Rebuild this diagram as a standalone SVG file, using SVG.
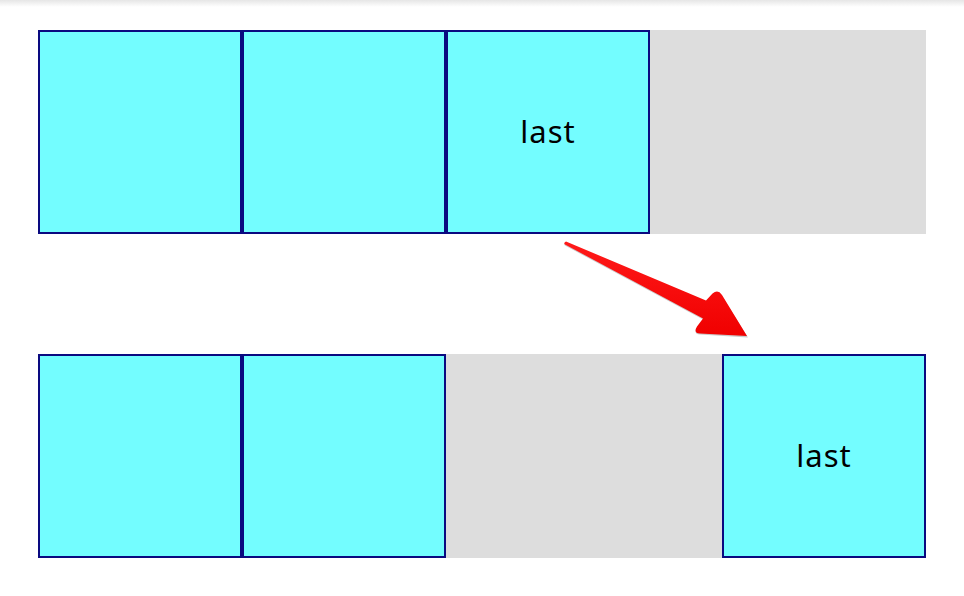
<svg xmlns="http://www.w3.org/2000/svg" width="964" height="596" viewBox="0 0 964 596">
<defs>
<linearGradient id="topshade" x1="0" y1="0" x2="0" y2="1">
<stop offset="0" stop-color="#e6e6e6"/>
<stop offset="1" stop-color="#ffffff"/>
</linearGradient>
<linearGradient id="arrowfill" x1="0" y1="0" x2="0" y2="1">
<stop offset="0" stop-color="#ff1a1a"/>
<stop offset="1" stop-color="#f00000"/>
</linearGradient>
</defs>
<style>
.box{fill:#73fdff;stroke:#0a0a80;stroke-width:2}
.empty{fill:#dddddd}
.lbl{font-family:"Noto Sans","Liberation Sans",sans-serif;font-size:31px;fill:#000;text-anchor:middle;letter-spacing:1px}
</style>
<rect x="0" y="0" width="964" height="596" fill="#ffffff"/>
<rect x="0" y="0" width="964" height="7" fill="url(#topshade)"/>
<g id="top-row">
<rect class="empty" x="650" y="30" width="276" height="204"/>
<g id="top-box1"><rect class="box" x="39" y="31" width="202" height="202"/></g>
<g id="top-box2"><rect class="box" x="243" y="31" width="202" height="202"/></g>
<g id="top-box3"><rect class="box" x="447" y="31" width="202" height="202"/><text class="lbl" x="548" y="143">last</text></g>
</g>
<g id="bottom-row">
<rect class="empty" x="446" y="354" width="276" height="204"/>
<g id="bottom-box1"><rect class="box" x="39" y="355" width="202" height="202"/></g>
<g id="bottom-box2"><rect class="box" x="243" y="355" width="202" height="202"/></g>
<g id="bottom-box3"><rect class="box" x="723" y="355" width="202" height="202"/><text class="lbl" x="824" y="467">last</text></g>
</g>
<g id="connectors">
<path d="M566,242.5 L706,301.5 L712.5,294.5 Q718,290 722,296 L748,337.5 L700,334.5 Q693,334 697,327.5 L703,319.5 L565,245.5 Q563,244 566,242.5 Z" fill="#666" opacity="0.35"/>
<path d="M566,241.5 L706,300.5 L712.5,293.5 Q718,289 722,295 L747,336 L700,333.5 Q693,333 697,326.5 L703,318.5 L565,244.5 Q563,243 566,241.5 Z" fill="url(#arrowfill)"/>
</g>
</svg>
